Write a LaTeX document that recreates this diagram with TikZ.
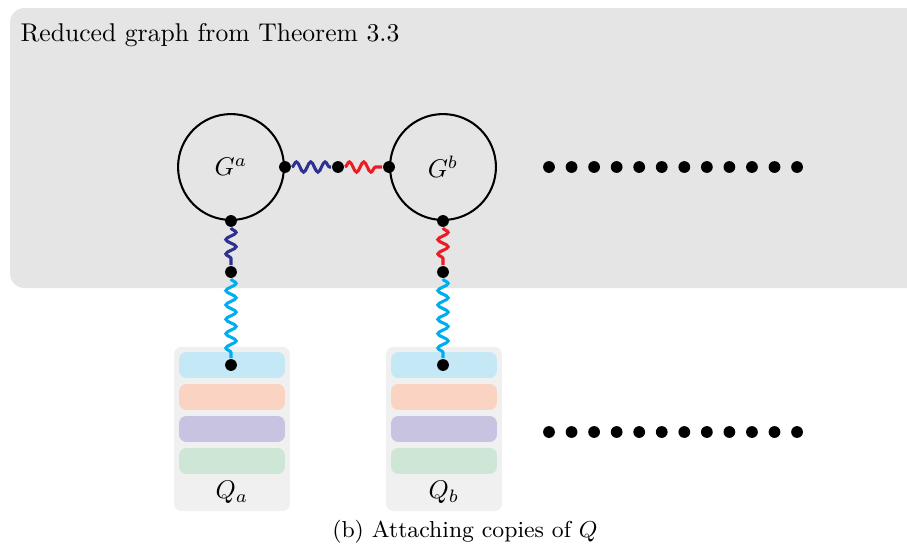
\documentclass[tikz,border=0pt]{standalone}
\usepackage{amsmath}
\usetikzlibrary{decorations.pathmorphing}
\definecolor{bggray}{RGB}{229,229,229}
\definecolor{qgray}{RGB}{240,240,240}
\definecolor{wavenavy}{RGB}{46,49,146}
\definecolor{wavered}{RGB}{237,28,36}
\definecolor{wavecyan}{RGB}{0,174,239}
\definecolor{barcyan}{RGB}{197,232,247}
\definecolor{barorange}{RGB}{251,211,194}
\definecolor{barpurple}{RGB}{199,195,224}
\definecolor{bargreen}{RGB}{205,230,214}

\begin{document}
\begin{tikzpicture}[x=0.39pt,y=-0.39pt,thick]
    %
    % `vertex' is used for the small black dots.
    % `graphnode' is used for the two big circles.
    % `wavy' is used for the snake edges.
    % `qframe' and `qbar' draw the copies of Q.
    \tikzstyle{vertex} = [fill,shape=circle,minimum size=4.6pt,inner sep=0pt]
    \tikzstyle{graphnode} = [draw,fill=bggray,shape=circle,minimum size=41.3pt,inner sep=0pt]
    \tikzstyle{wavy} = [line width=1.2pt,decorate,decoration={snake,amplitude=2pt,segment length=5.6pt}]
    \tikzstyle{surround} = [fill=bggray,rounded corners=2mm]
    \tikzstyle{qframe} = [fill=qgray,rounded corners=1mm,minimum width=45.2pt,minimum height=64pt,inner sep=0pt]
    \tikzstyle{qbar} = [rounded corners=1mm,minimum width=41.3pt,minimum height=10.1pt,inner sep=0pt]
    \useasboundingbox (0,0) rectangle (907,545);
    %
    % Background box
    \fill[surround] (10,8) rectangle (930,288);
    \node[anchor=west] (title) at (11,35) {Reduced graph from Theorem 3.3};
    %
    % Graphs
    \node[graphnode] (ga) at (231,167) {$G^a$};
    \node[graphnode] (gb) at (443,167) {$G^b$};
    %
    % Copies of Q
    \node[qframe] (qa) at (232,429) {};
    \node[qframe] (qb) at (444,429) {};
    \node[qbar,fill=barcyan] (qa1) at (232,365) {};
    \node[qbar,fill=barorange] (qa2) at (232,397) {};
    \node[qbar,fill=barpurple] (qa3) at (232,429) {};
    \node[qbar,fill=bargreen] (qa4) at (232,461) {};
    \node[qbar,fill=barcyan] (qb1) at (444,365) {};
    \node[qbar,fill=barorange] (qb2) at (444,397) {};
    \node[qbar,fill=barpurple] (qb3) at (444,429) {};
    \node[qbar,fill=bargreen] (qb4) at (444,461) {};
    \node (qalabel) at (232,492) {$Q_a$};
    \node (qblabel) at (444,492) {$Q_b$};
    %
    % Vertices
    \node[vertex] (ga-e) at (ga.east) {};
    \node[vertex] (ga-s) at (ga.south) {};
    \node[vertex] (gb-w) at (gb.west) {};
    \node[vertex] (gb-s) at (gb.south) {};
    \node[vertex] (mid) at (338,167) {};
    \node[vertex] (pa) at (231,272) {};
    \node[vertex] (pb) at (443,272) {};
    \node[vertex] (qa-top) at (231,365) {};
    \node[vertex] (qb-top) at (443,365) {};
    %
    % Wavy edges
    \draw[wavy,wavenavy] (ga-e) -- (mid);
    \draw[wavy,wavered] (mid) -- (gb-w);
    \draw[wavy,wavenavy] (ga-s) -- (pa);
    \draw[wavy,wavered] (gb-s) -- (pb);
    \draw[wavy,wavecyan] (pa) -- (qa-top);
    \draw[wavy,wavecyan] (pb) -- (qb-top);
    %
    % More copies
    \foreach \i in {0,...,11} {
        \node[vertex] (top\i) at (549+22.55*\i,167) {};
        \node[vertex] (bot\i) at (549+22.55*\i,432) {};
    }
    %
    % Caption
    \node[font=\small] (caption) at (465,532) {(b) Attaching copies of $Q$};
    %
\end{tikzpicture}
\end{document}
